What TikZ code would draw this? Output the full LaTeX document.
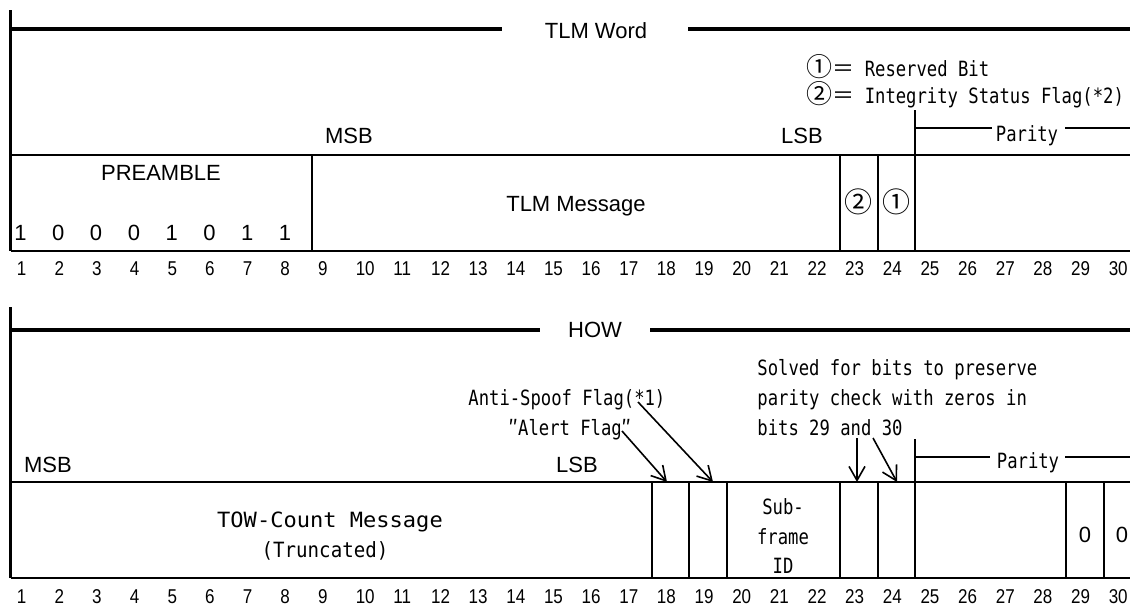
\documentclass[tikz,border=0pt]{standalone}
\usepackage{fontspec}
\setmainfont{Liberation Sans}
\newfontfamily\gothic[FakeStretch=0.82]{DejaVu Sans Mono}
\newfontfamily\cjk{Noto Sans CJK JP}
\newcommand{\circd}[1]{{\cjk\fontsize{13pt}{13pt}\selectfont #1}}
\newcommand{\fweq}{{\cjk\fontsize{11pt}{13pt}\selectfont ＝}}
\usetikzlibrary{arrows.meta}
\begin{document}
\begin{tikzpicture}[x=0.5pt,y=-0.5pt,
  thickln/.style={line width=2pt},
  medln/.style={line width=1.4pt},
  thinln/.style={line width=1pt},
  arial/.style={font=\fontsize{11pt}{13pt}\selectfont, inner sep=0pt, anchor=base},
  goth/.style={font=\gothic\fontsize{10.5pt}{12pt}\selectfont, inner sep=0pt, anchor=base},
  gothw/.style={goth, anchor=base west},
  circ/.style={font=\cjk\fontsize{14pt}{14pt}\selectfont, inner sep=0pt, anchor=base},
  bitnum/.style={font=\fontsize{10pt}{12pt}\selectfont, inner sep=0pt, anchor=base west},
  pointer/.style={line width=0.8pt, -{Straight Barb[length=7pt,width=8pt,line width=0.8pt]}}]
\useasboundingbox (0,0) rectangle (1130,605);

% ================= TLM word =================
\draw[medln] (10.5,10) -- (10.5,251);
\draw[thickln] (11,29) -- (502,29);
\draw[thickln] (688,29) -- (1130,29);
\node[arial] (tlmword) at (596,39) {TLM Word};

\node[gothw] (resv) at (806,76) {\circd{①}\fweq\ Reserved Bit};
\node[gothw] (integ) at (806,103) {\circd{②}\fweq\ Integrity Status Flag(*2)};

\node[arial] (msbA) at (349,143) {MSB};
\node[arial] (lsbA) at (802,143) {LSB};

\draw[medln] (915,110) -- (915,251);
\draw[medln] (915,128) -- (992,128);
\draw[medln] (1065,128) -- (1130,128);
\node[goth] (parA) at (1027,141) {Parity};

\draw[medln] (10.5,155) -- (1130,155);
\draw[medln] (10.5,251) -- (1130,251);
\draw[medln] (312,155) -- (312,251);
\draw[thinln] (840,155) -- (840,251);
\draw[thinln] (877.5,155) -- (877.5,251);

\node[arial] (pream) at (161,180) {PREAMBLE};
\foreach \d [count=\i] in {1,0,0,0,1,0,1,1}
  \node[arial] (pd\i) at ({20.5+(\i-1)*37.8},240) {\d};
\node[arial] (tlmmsg) at (576,211) {TLM Message};
\node[circ] (isf) at (858,212) {②};
\node[circ] (rsb) at (896,212) {①};

\foreach \i in {1,...,30}
  \node[bitnum] (ta\i) at ({16.5+(\i-1)*37.65},275) {\scalebox{0.85}[1]{\i}};

% ================= HOW =================
\draw[medln] (10.5,307) -- (10.5,578);
\draw[thickln] (11,330) -- (540,330);
\draw[thickln] (650,330) -- (1130,330);
\node[arial] (how) at (595,337) {HOW};

\node[gothw] (sol1) at (757,375) {Solved for bits to preserve};
\node[gothw] (sol2) at (757,405) {parity check with zeros in};
\node[gothw] (sol3) at (757,435) {bits 29 and 30};

\node[gothw] (anti) at (468,405) {Anti-Spoof Flag(*1)};
\node[goth] (alert) at (570,435) {{\cjk ″}Alert Flag{\cjk ″}};

\node[arial] (msbB) at (48,472) {MSB};
\node[arial] (lsbB) at (577,472) {LSB};

\draw[medln] (915,439) -- (915,578);
\draw[medln] (915,457) -- (990,457);
\draw[medln] (1065,457) -- (1130,457);
\node[goth] (parB) at (1028,468) {Parity};

\draw[medln] (10.5,482) -- (1130,482);
\draw[medln] (10.5,578) -- (1130,578);
\draw[medln] (652,482) -- (652,578);
\draw[medln] (689,482) -- (689,578);
\draw[thinln] (727,482) -- (727,578);
\draw[thinln] (840,482) -- (840,578);
\draw[thinln] (877.5,482) -- (877.5,578);
\draw[thinln] (1066,482) -- (1066,578);
\draw[thinln] (1103.5,482) -- (1103.5,578);

\node[goth] (tow1) at (330,527) {\scalebox{1.28}[1]{TOW-Count Message}};
\node[goth] (tow2) at (325,557) {\scalebox{1.11}[1]{(Truncated)}};
\node[goth] (sub1) at (783,514) {Sub-};
\node[goth] (sub2) at (783,544) {frame};
\node[goth] (sub3) at (783,573) {ID};
\node[arial] (z29) at (1085,542) {0};
\node[arial] (z30) at (1122,542) {0};

\foreach \i in {1,...,30}
  \node[bitnum] (tb\i) at ({16.5+(\i-1)*37.65},603) {\scalebox{0.85}[1]{\i}};

% arrows
\coordinate (aAs) at (622,431);
\coordinate (aAe) at (667,482);
\coordinate (aBs) at (638,402);
\coordinate (aBe) at (713,482);
\coordinate (aCs) at (857,438);
\coordinate (aCe) at (857,482);
\coordinate (aDs) at (873,438);
\coordinate (aDe) at (897,482);
\draw[pointer] (aAs) -- (aAe);
\draw[pointer] (aBs) -- (aBe);
\draw[pointer] (aCs) -- (aCe);
\draw[pointer] (aDs) -- (aDe);
\end{tikzpicture}
\end{document}
